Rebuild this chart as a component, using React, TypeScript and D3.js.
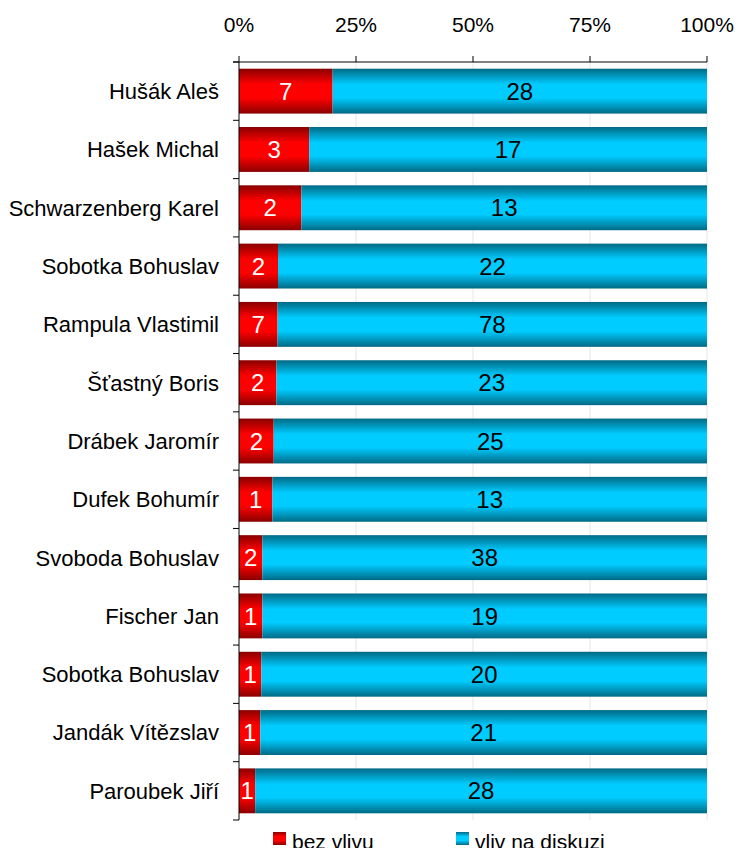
import { useMemo } from "react";
import * as d3 from "d3";

// Candidates and counts
const names = [
  "Hušák Aleš",
  "Hašek Michal",
  "Schwarzenberg Karel",
  "Sobotka Bohuslav",
  "Rampula Vlastimil",
  "Šťastný Boris",
  "Drábek Jaromír",
  "Dufek Bohumír",
  "Svoboda Bohuslav",
  "Fischer Jan",
  "Sobotka Bohuslav",
  "Jandák Vítězslav",
  "Paroubek Jiří",
];
const bezVlivu = [7, 3, 2, 2, 7, 2, 2, 1, 2, 1, 1, 1, 1];
const vlivNaDiskuzi = [28, 17, 13, 22, 78, 23, 25, 13, 38, 19, 20, 21, 28];
const ticks = [0, 0.25, 0.5, 0.75, 1];
const seriesNames = ["bez vlivu", "vliv na diskuzi"];

const width = 738;
const height = 848;
const margin = { top: 62, right: 31, bottom: 28, left: 239 };
const font = "'Liberation Sans', Arial, sans-serif";

export default function App() {
  const innerW = width - margin.left - margin.right;
  const innerH = height - margin.top - margin.bottom;

  const x = useMemo(() => d3.scaleLinear().domain([0, 1]).range([0, innerW]), [innerW]);
  const y = useMemo(
    () =>
      d3
        .scaleBand<number>()
        .domain(d3.range(names.length))
        .range([0, innerH])
        .paddingInner(0.23)
        .paddingOuter(0.115),
    [innerH]
  );

  const step = innerH / names.length;

  return (
    <div style={{ position: "absolute", left: 0, top: 0 }}>
      <svg width={width} height={height} style={{ display: "block", fontFamily: font }}>
        <defs>
          <linearGradient id="gRed" x1="0" y1="0" x2="0" y2="1">
            <stop offset="0%" stopColor="#8a0000" />
            <stop offset="35%" stopColor="#ff0000" />
            <stop offset="65%" stopColor="#ff0000" />
            <stop offset="100%" stopColor="#8a0000" />
          </linearGradient>
          <linearGradient id="gBlue" x1="0" y1="0" x2="0" y2="1">
            <stop offset="0%" stopColor="#006a85" />
            <stop offset="35%" stopColor="#00ccff" />
            <stop offset="65%" stopColor="#00ccff" />
            <stop offset="100%" stopColor="#006a85" />
          </linearGradient>
        </defs>
        <g transform={`translate(${margin.left},${margin.top})`}>
          {/* gridlines */}
          {ticks.slice(1).map((t) => (
            <line key={t} x1={x(t)} x2={x(t)} y1={0} y2={innerH} stroke="#e6e6e6" strokeWidth={1} />
          ))}
          {/* bars */}
          {names.map((n, i) => {
            const total = bezVlivu[i] + vlivNaDiskuzi[i];
            const p = bezVlivu[i] / total;
            const y0 = y(i)!;
            const bh = y.bandwidth();
            return (
              <g key={i}>
                <rect x={x(0)} y={y0} width={x(p) - x(0)} height={bh} fill="url(#gRed)" />
                <rect x={x(p)} y={y0} width={x(1) - x(p)} height={bh} fill="url(#gBlue)" />
                <text
                  x={(x(0) + x(p)) / 2}
                  y={y0 + bh / 2}
                  dy="0.36em"
                  textAnchor="middle"
                  fill="#fff"
                  fontSize={24}
                >
                  {bezVlivu[i]}
                </text>
                <text
                  x={(x(p) + x(1)) / 2}
                  y={y0 + bh / 2}
                  dy="0.36em"
                  textAnchor="middle"
                  fill="#000"
                  fontSize={24}
                >
                  {vlivNaDiskuzi[i]}
                </text>
                <text
                  x={-20}
                  y={y0 + bh / 2}
                  dy="0.36em"
                  textAnchor="end"
                  fill="#000"
                  fontSize={22}
                >
                  {n}
                </text>
              </g>
            );
          })}
          {/* top axis */}
          <line x1={-6} x2={innerW} y1={0} y2={0} stroke="#000" />
          {ticks.map((t) => (
            <g key={t}>
              <line x1={x(t)} x2={x(t)} y1={-6} y2={0} stroke="#000" />
              <text x={x(t)} y={-30} textAnchor="middle" fontSize={21} fill="#000">
                {d3.format(".0%")(t)}
              </text>
            </g>
          ))}
          {/* left axis */}
          <line x1={0} x2={0} y1={0} y2={innerH} stroke="#000" />
          {d3.range(names.length + 1).map((k) => (
            <line key={k} x1={-6} x2={0} y1={k * step} y2={k * step} stroke="#000" />
          ))}
        </g>
        {/* legend */}
        <g transform={`translate(273,832)`}>
          <rect x={0} y={0} width={13} height={13} fill="url(#gRed)" />
          <text x={19} y={17} fontSize={21}>{seriesNames[0]}</text>
          <rect x={183} y={0} width={13} height={13} fill="url(#gBlue)" />
          <text x={202} y={17} fontSize={21}>{seriesNames[1]}</text>
        </g>
      </svg>
    </div>
  );
}
